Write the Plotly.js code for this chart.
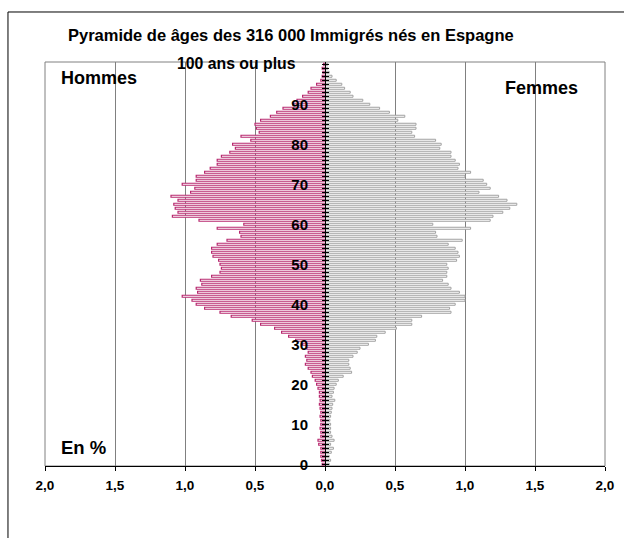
<!DOCTYPE html>
<html><head><meta charset="utf-8">
<script src="https://cdn.plot.ly/plotly-3.0.1.min.js"></script>
<style>html,body{margin:0;padding:0;background:#fff;}#chart{width:624px;height:538px;}</style>
</head><body><div id="chart"></div>
<script>
// Ages 0..100 (100 = "100 ans ou plus")
const ages = Array.from({length:101}, (_, i) => i);
// Percent of total, men (Hommes)
const hommes = [0.02,0.025,0.03,0.03,0.03,0.045,0.05,0.03,0.03,0.035,
  0.03,0.03,0.035,0.03,0.035,0.04,0.035,0.04,0.04,0.05,
  0.06,0.07,0.09,0.10,0.12,0.14,0.13,0.14,0.12,0.13,
  0.16,0.21,0.26,0.31,0.36,0.46,0.52,0.67,0.75,0.86,
  0.92,0.95,1.02,0.91,0.92,0.88,0.89,0.81,0.75,0.74,
  0.75,0.76,0.80,0.81,0.81,0.77,0.70,0.60,0.61,0.77,
  0.58,0.90,1.09,1.05,1.07,1.08,1.05,1.10,0.96,0.93,
  1.02,0.92,0.92,0.86,0.82,0.77,0.77,0.74,0.68,0.64,
  0.66,0.53,0.60,0.47,0.49,0.50,0.46,0.39,0.345,0.30,
  0.23,0.20,0.16,0.12,0.10,0.06,0.03,0.02,0.015,0.02,0.01];
// Percent of total, women (Femmes)
const femmes = [0.03,0.04,0.03,0.045,0.06,0.04,0.065,0.05,0.04,0.04,
  0.04,0.035,0.04,0.045,0.05,0.055,0.07,0.05,0.06,0.065,
  0.08,0.095,0.13,0.19,0.18,0.17,0.17,0.20,0.23,0.25,
  0.31,0.36,0.37,0.43,0.51,0.62,0.62,0.69,0.90,0.89,
  0.93,1.00,1.00,0.96,0.90,0.88,0.84,0.87,0.87,0.88,
  0.87,0.94,0.96,0.95,0.93,0.88,0.98,0.80,0.79,1.04,
  0.77,1.18,1.20,1.27,1.32,1.37,1.30,1.24,1.10,1.18,
  1.155,1.13,1.00,1.04,0.95,0.96,0.93,0.90,0.90,0.82,
  0.83,0.79,0.64,0.62,0.65,0.65,0.52,0.57,0.46,0.39,
  0.32,0.27,0.20,0.18,0.14,0.12,0.08,0.05,0.03,0.02,0.02];
const xTickVals = [-2,-1.5,-1,-0.5,0,0.5,1,1.5,2];
const xTickText = ['2,0','1,5','1,0','0,5','0,0','0,5','1,0','1,5','2,0'];
const ageLabelText = ages.map(a => (a % 10 === 0 && a < 100) ? String(a) : '');
const topLabel = '100 ans ou plus';
const titleText = 'Pyramide de âges des 316 000 Immigrés nés en Espagne';

const FONT = '"Liberation Sans", Arial, sans-serif';
const yRange = [-0.4375, 100.5625];

const traces = [
  {type:'bar', orientation:'h', y:ages, x:hommes.map(v => -v), name:'Hommes',
   marker:{color:'#ffffff', line:{color:'#b8286f', width:1.2}}, hoverinfo:'skip'},
  {type:'bar', orientation:'h', y:ages, x:femmes, name:'Femmes',
   marker:{color:'#ffffff', line:{color:'#a0a0a0', width:1}}, hoverinfo:'skip'}
];

const layout = {
  width:624, height:538,
  margin:{l:45, r:19, t:62, b:72},
  paper_bgcolor:'#ffffff', plot_bgcolor:'#ffffff',
  showlegend:false,
  barmode:'overlay', bargap:0.5,
  font:{family:FONT, color:'#000'},
  title:{text:'<b>'+titleText+'</b>', font:{family:FONT, size:16.5, color:'#000'},
         xref:'paper', x:0.439, xanchor:'center', yref:'container', y:0.935, yanchor:'middle'},
  xaxis:{range:[-2,2], tickvals:xTickVals, ticktext:xTickText, fixedrange:true,
         showgrid:true, gridcolor:'#808080', gridwidth:1, zeroline:false,
         showline:true, linecolor:'#000', linewidth:1,
         ticks:'outside', ticklen:4, tickcolor:'#000', tickwidth:1, ticklabelstandoff:3,
         tickfont:{family:FONT, size:13.5, color:'#000', weight:'bold'}},
  yaxis:{range:yRange, showgrid:false, zeroline:false, showline:false,
         showticklabels:false, ticks:'', fixedrange:true},
  yaxis2:{range:yRange, overlaying:'y', anchor:'free', position:0.5, side:'left',
          showgrid:false, zeroline:false, showline:true, linecolor:'#000', linewidth:1,
          tickvals:ages, ticktext:ageLabelText, ticks:'outside', ticklen:3, tickcolor:'#000',
          ticklabelstandoff:11,
          tickfont:{family:FONT, size:15, color:'#000', weight:'bold'}, fixedrange:true},
  yaxis3:{range:yRange, overlaying:'y', anchor:'free', position:0.5, side:'left',
          showgrid:false, zeroline:false, showline:false, showticklabels:false,
          tickvals:ages, ticks:'inside', ticklen:3, tickcolor:'#000', fixedrange:true},
  shapes:[
    {type:'rect', xref:'paper', yref:'paper', x0:0, x1:1, y0:0, y1:1,
     line:{color:'#808080', width:1}, layer:'below'},
    {type:'line', xref:'paper', yref:'paper', x0:-0.0661, x1:1.04, y0:1.1238, y1:1.1238,
     line:{color:'#000', width:1}},
    {type:'line', xref:'paper', yref:'paper', x0:-0.0661, x1:-0.0661, y0:1.1238, y1:-0.2,
     line:{color:'#000', width:1}}
  ],
  annotations:[
    {text:'<b>Hommes</b>', xref:'paper', yref:'paper', x:0.025, y:0.960, xanchor:'left', yanchor:'middle',
     showarrow:false, font:{family:FONT, size:18, color:'#000'}},
    {text:'<b>Femmes</b>', xref:'paper', yref:'paper', x:0.817, y:0.936, xanchor:'left', yanchor:'middle',
     showarrow:false, font:{family:FONT, size:18, color:'#000'}},
    {text:'<b>En %</b>', xref:'paper', yref:'paper', x:0.025, y:0.0446, xanchor:'left', yanchor:'middle',
     showarrow:false, font:{family:FONT, size:18.5, color:'#000'}},
    {text:'<b>'+topLabel+'</b>', xref:'x', yref:'y', x:-0.193, y:100.3, xanchor:'right', yanchor:'middle',
     showarrow:false, font:{family:FONT, size:15.8, color:'#000'}}
  ]
};

// Invisible helper traces that activate the centre axes
traces.push({type:'scatter', x:[0], y:[0], yaxis:'y2', mode:'markers', marker:{opacity:0}, hoverinfo:'skip'});
traces.push({type:'scatter', x:[0], y:[0], yaxis:'y3', mode:'markers', marker:{opacity:0}, hoverinfo:'skip'});

Plotly.newPlot('chart', traces, layout, {staticPlot:true, displayModeBar:false});
</script></body></html>
